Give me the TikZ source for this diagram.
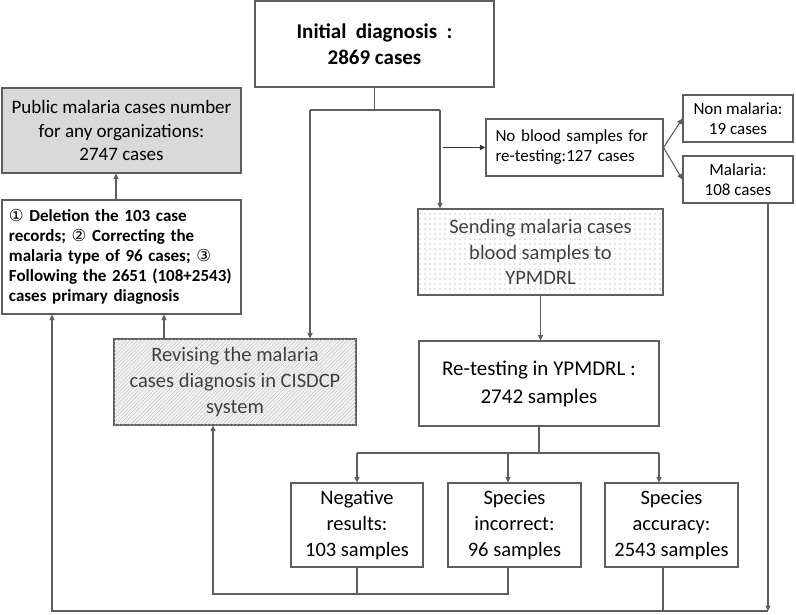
\documentclass[tikz,border=0pt]{standalone}
\usepackage{fontspec}
\setmainfont{Carlito}
\newfontfamily\dv{DejaVu Sans}
\usetikzlibrary{arrows.meta,patterns.meta,calc}
\definecolor{ln}{HTML}{5E5E5E}
\definecolor{tx}{HTML}{404040}
\definecolor{pubfill}{HTML}{D9D9D9}
\newcommand{\circnum}[1]{{\dv\mdseries\fontsize{16.5}{20}\selectfont #1}}
\begin{document}
\begin{tikzpicture}[x=1pt,y=-1pt,
  box/.style={draw=ln, line width=1.1pt, inner sep=0pt, align=center, rectangle},
  con/.style={draw=ln, line width=1.1pt},
  arr/.style={con, -{Triangle[length=5.5pt,width=5pt]}},
  fa/.style={font=\fontsize{20.5}{26}\selectfont},
]
\useasboundingbox (0,0) rectangle (796,614);

% nodes
\node[box, minimum width=239pt, minimum height=86pt,
      font=\fontsize{21}{26}\selectfont\bfseries] (init) at (374.5,44)
  {Initial\hspace{0.45em}diagnosis\hspace{0.45em}:\\2869 cases};

\node[box, fill=pubfill, minimum width=239pt, minimum height=85pt,
      font=\fontsize{19}{23.5}\selectfont] (pub) at (121.5,130.5)
  {Public malaria cases number\\for any organizations:\\2747 cases};

\node[box, minimum width=239pt, minimum height=114pt, text width=225pt, align=left,
      font=\fontsize{17}{20}\selectfont\bfseries] (del) at (121.5,257)
  {\circnum{①}\ Deletion the 103 case\\
   records; \circnum{②}\ Correcting the\\
   malaria type of 96 cases; \circnum{③}\\
   Following the 2651 (108+2543)\\
   cases primary diagnosis};

\node[box, fill=gray!10, postaction={pattern={Lines[angle=45,distance=2.6pt,line width=0.3pt]}, pattern color=gray!55},
      minimum width=242pt, minimum height=86pt, text=tx, fa] (rev) at (235,382)
  {Revising the malaria\\cases diagnosis in CISDCP\\system};

\node[box, minimum width=177pt, minimum height=57pt, text width=158pt, align=left,
      font=\fontsize{17}{20}\selectfont] (nob) at (574.5,147.5)
  {No blood samples for\\re-testing:127 cases};

\node[box, minimum width=110pt, minimum height=47pt,
      font=\fontsize{17}{19.5}\selectfont] (nonm) at (738,118.5)
  {Non malaria:\\19 cases};

\node[box, minimum width=110pt, minimum height=47pt,
      font=\fontsize{17}{19.5}\selectfont] (mal) at (738,179.5)
  {Malaria:\\108 cases};

\node[box, fill=white, postaction={pattern={Dots[distance=5pt,radius=0.6pt]}, pattern color=gray!85},
      minimum width=245pt, minimum height=86pt, text=tx,
      font=\fontsize{20.5}{25.5}\selectfont] (send) at (540.5,252)
  {Sending malaria cases\\blood samples to\\YPMDRL};

\node[box, minimum width=240pt, minimum height=85pt,
      font=\fontsize{21}{28}\selectfont] (ret) at (539,383.5)
  {Re-testing in YPMDRL :\\2742 samples};

\node[box, minimum width=132pt, minimum height=84pt, fa] (neg) at (357,525)
  {Negative\\results:\\103 samples};
\node[box, minimum width=133pt, minimum height=84pt, fa] (inc) at (514.5,525)
  {Species\\incorrect:\\96 samples};
\node[box, minimum width=133pt, minimum height=84pt, fa] (acc) at (671.5,525)
  {Species\\accuracy:\\2543 samples};

% junction coordinates
\coordinate (jl) at (310,110);
\coordinate (jr) at (440,110);
\coordinate (jb) at (539,453);
\coordinate (jbl) at (357,453);
\coordinate (jbr) at (659,453);
\coordinate (jm) at (508,453);
\coordinate (fl) at (213,594);
\coordinate (fr) at (508,594);
\coordinate (gl) at (52,611);
\coordinate (gr) at (768,611);

% connectors from initial
\draw[con] (init.south) -- (init.south |- jl);
\draw[con] (jl) -- (jr);
\draw[arr] (jl) -- (jl |- rev.north);
\draw[arr] (jr) -- (jr |- send.north);
\draw[arr, line width=1.5pt, draw=black!80] ($(jr |- nob.west)+(3,0)$) -- (nob.west);
\draw[arr] (nob.east) -- (nonm.west);
\draw[arr] (nob.east) -- (mal.west);

% left column
\draw[arr] ($(del.north)+(-5.5,0)$) -- ($(pub.south)+(-5.5,0)$);
\draw[arr] ($(rev.north)+(-71,0)$) coordinate (rt) -- (rt |- del.south);

% middle column
\draw[arr] (send.south) -- (send.south |- ret.north);
\draw[con] (ret.south) -- (ret.south |- jb);
\draw[con] (jbl) -- (jbr);
\draw[arr] (jbl) -- (jbl |- neg.north);
\draw[arr] (jm) -- (jm |- inc.north);
\draw[arr] (jbr) -- (jbr |- acc.north);

% feedback to revising
\draw[con] (neg.south) -- (neg.south |- fl);
\draw[arr] (fr |- inc.south) -- (fr) -- (fl) -- (fl |- rev.south);

% feedback to deletion
\draw[arr] (gr |- mal.south) -- (gr);
\draw[con] ($(acc.south)+(-8.5,0)$) coordinate (as) -- (as |- gl);
\draw[arr] (gr) -- (gl) -- (gl |- del.south);
\end{tikzpicture}
\end{document}
